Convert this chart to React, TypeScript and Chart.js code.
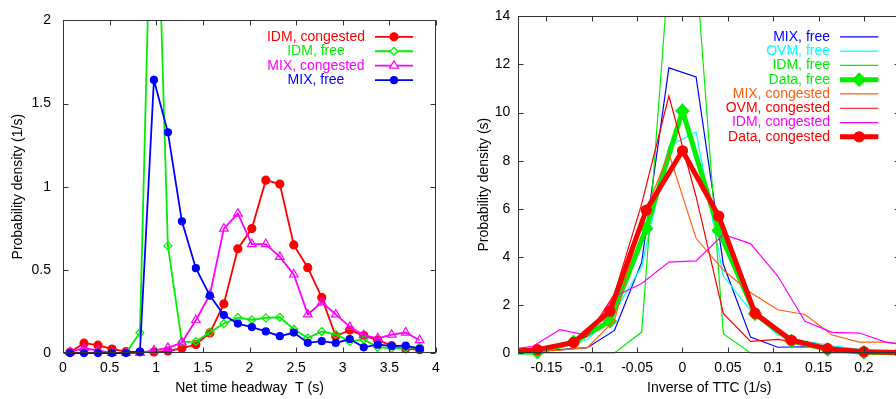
import React, { useEffect, useRef } from 'react';
import { Chart, registerables } from 'chart.js';

Chart.register(...registerables);

// ---------- Left panel: net time headway ----------
const HEADWAY_T = [0.075, 0.225, 0.375, 0.525, 0.675, 0.825, 0.975, 1.125, 1.275, 1.425, 1.575, 1.725, 1.875,
  2.025, 2.175, 2.325, 2.475, 2.625, 2.775, 2.925, 3.075, 3.225, 3.375, 3.525, 3.675, 3.825];
const IDM_CONGESTED = [0.005, 0.059, 0.047, 0.024, 0.008, 0.006, 0.006, 0.012, 0.028, 0.051, 0.121, 0.295, 0.627,
  0.748, 1.039, 1.016, 0.650, 0.513, 0.333, 0.101, 0.138, 0.105, 0.078, 0.044, 0.025, 0.020];
const IDM_FREE = [0, 0, 0, 0, 0, 0.122, 3.5, 0.644, 0.066, 0.069, 0.125, 0.177, 0.213, 0.200, 0.211, 0.215,
  0.143, 0.090, 0.129, 0.112, 0.070, 0.082, 0.035, 0.028, 0.030, 0.035];
const MIX_CONGESTED = [0.005, 0.03, 0.015, 0, 0, 0, 0.016, 0.031, 0.063, 0.197, 0.350, 0.748, 0.838, 0.655,
  0.655, 0.578, 0.472, 0.232, 0.305, 0.232, 0.157, 0.107, 0.088, 0.110, 0.123, 0.077];
const MIX_FREE = [0, 0, 0, 0, 0, 0.008, 1.642, 1.327, 0.792, 0.510, 0.345, 0.228, 0.177, 0.156, 0.130, 0.101,
  0.123, 0.061, 0.071, 0.060, 0.084, 0.034, 0.050, 0.042, 0.044, 0.026];
const LEFT_X_TICKS = [0, 0.5, 1, 1.5, 2, 2.5, 3, 3.5, 4];
const LEFT_Y_TICKS = [0, 0.5, 1, 1.5, 2];

// ---------- Right panel: inverse of TTC ----------
const TTC_DATA_X = [-0.2, -0.16, -0.12, -0.08, -0.04, 0, 0.04, 0.08, 0.12, 0.16, 0.2, 0.24];
const DATA_FREE = [0.02, 0.04, 0.45, 1.32, 5.18, 10.07, 5.1, 1.63, 0.5, 0.15, 0.03, 0.01];
const DATA_CONGESTED = [0.05, 0.14, 0.44, 1.74, 5.94, 8.41, 5.69, 1.65, 0.53, 0.18, 0.05, 0.02];
const TTC_SIM_X = [-0.195, -0.165, -0.135, -0.105, -0.075, -0.045, -0.015, 0.015, 0.045, 0.075, 0.105, 0.135,
  0.165, 0.195, 0.225, 0.255];
const MIX_FREE_R = [0.04, 0.08, 0.14, 0.22, 0.94, 3.78, 11.86, 11.48, 3.69, 0.66, 0.24, 0.26, 0.2, 0.12, 0.08, 0.05];
const OVM_FREE_R = [0.05, 0.12, 0.3, 0.55, 1.7, 3.6, 8.6, 9.2, 3.2, 1.77, 0.75, 0.5, 0.3, 0.15, 0.08, 0.05];
const IDM_FREE_R = [0, 0, 0, 0, 0, 0.87, 16, 16, 0.8, 0, 0, 0, 0, 0, 0, 0];
const MIX_CONGESTED_R = [0.03, 0.05, 0.12, 0.22, 1.35, 5.5, 8.31, 4.77, 3.45, 2.52, 1.8, 1.6, 0.75, 0.45, 0.45, 0.3];
const OVM_CONGESTED_R = [0.05, 0.1, 0.3, 0.7, 2.45, 6.2, 10.69, 6.5, 1.65, 0.48, 0.57, 0.4, 0.2, 0.1, 0.05, 0.03];
const IDM_CONGESTED_R = [0.12, 0.28, 0.97, 0.73, 2.34, 2.89, 3.78, 3.83, 4.93, 4.55, 3.2, 1.32, 0.86, 0.83, 0.44, 0.3];
const RIGHT_X_TICKS = [-0.15, -0.1, -0.05, 0, 0.05, 0.1, 0.15, 0.2];
const RIGHT_Y_TICKS = [0, 2, 4, 6, 8, 10, 12, 14];

const FONT_FAMILY = '"Liberation Sans", Arial, sans-serif';

type PStyle = 'circle' | 'rectRot' | 'triangle' | undefined;
interface LegendItem {
  label: string;
  color: string;
  lineWidth: number;
  point?: PStyle;
  radius?: number;
  filled?: boolean;
}

function pts(xs: number[], ys: number[]) {
  return xs.map((x, i) => ({ x, y: ys[i] }));
}

function fmt(v: number) {
  return String(Number(v.toFixed(3)));
}

function drawMarker(ctx: CanvasRenderingContext2D, style: PStyle, x: number, y: number, r: number, color: string, filled: boolean) {
  ctx.beginPath();
  if (style === 'circle') {
    ctx.arc(x, y, r, 0, Math.PI * 2);
  } else if (style === 'rectRot') {
    ctx.moveTo(x - r, y);
    ctx.lineTo(x, y - r);
    ctx.lineTo(x + r, y);
    ctx.lineTo(x, y + r);
    ctx.closePath();
  } else if (style === 'triangle') {
    for (let k = 0; k < 3; k++) {
      const a = (k * 2 * Math.PI) / 3;
      const px = x + Math.sin(a) * r;
      const py = y - Math.cos(a) * r;
      if (k === 0) ctx.moveTo(px, py); else ctx.lineTo(px, py);
    }
    ctx.closePath();
  }
  ctx.lineWidth = 1.2;
  ctx.strokeStyle = color;
  ctx.fillStyle = filled ? color : '#ffffff';
  ctx.fill();
  ctx.stroke();
}

function framePlugin(tickLen: number) {
  return {
    id: 'gpFrame',
    afterDatasetsDraw(chart: any) {
      const { ctx, chartArea: a, scales } = chart;
      ctx.save();
      ctx.strokeStyle = '#333333';
      ctx.lineWidth = 1;
      const L = Math.round(a.left) + 0.5;
      const R = Math.round(a.right) - 0.5;
      const T = Math.round(a.top) + 0.5;
      const B = Math.round(a.bottom) - 0.5;
      ctx.strokeRect(L, T, R - L, B - T);
      ctx.beginPath();
      scales.x.ticks.forEach((t: any) => {
        const px = Math.round(scales.x.getPixelForValue(t.value)) + 0.5;
        ctx.moveTo(px, B); ctx.lineTo(px, B - tickLen);
        ctx.moveTo(px, T); ctx.lineTo(px, T + tickLen);
      });
      scales.y.ticks.forEach((t: any) => {
        const py = Math.round(scales.y.getPixelForValue(t.value)) + 0.5;
        ctx.moveTo(L, py); ctx.lineTo(L + tickLen, py);
        ctx.moveTo(R, py); ctx.lineTo(R - tickLen, py);
      });
      ctx.stroke();
      ctx.restore();
    },
  };
}

function legendPlugin(items: LegendItem[], cfg: { textX: number; align: CanvasTextAlign; x0: number; x1: number; y0: number; dy: number }) {
  return {
    id: 'gpLegend',
    afterDraw(chart: any) {
      const ctx: CanvasRenderingContext2D = chart.ctx;
      ctx.save();
      ctx.font = `14px ${FONT_FAMILY}`;
      ctx.textBaseline = 'middle';
      ctx.textAlign = cfg.align;
      items.forEach((it, i) => {
        const y = cfg.y0 + i * cfg.dy;
        ctx.fillStyle = it.color;
        ctx.fillText(it.label, cfg.textX, y);
        ctx.strokeStyle = it.color;
        ctx.lineWidth = it.lineWidth;
        ctx.beginPath();
        ctx.moveTo(cfg.x0, y);
        ctx.lineTo(cfg.x1, y);
        ctx.stroke();
        if (it.point) {
          drawMarker(ctx, it.point, (cfg.x0 + cfg.x1) / 2, y, it.radius || 4, it.color, !!it.filled);
        }
      });
      ctx.restore();
    },
  };
}

function lineDs(label: string, xs: number[], ys: number[], color: string, width: number, order: number,
  point: PStyle, radius: number, filled: boolean) {
  return {
    label,
    data: pts(xs, ys),
    borderColor: color,
    backgroundColor: color,
    borderWidth: width,
    tension: 0,
    order,
    pointStyle: point || 'circle',
    pointRadius: point ? radius : 0,
    pointBorderWidth: 1.2,
    pointBorderColor: color,
    pointBackgroundColor: filled ? color : 'rgba(255,255,255,0)',
    clip: { left: 0, top: 0, right: 0, bottom: 10 },
  };
}

function axisCfg(min: number, max: number, tickVals: number[], title: string, isX: boolean, size: number, tickPad: number, titlePad: any) {
  return {
    type: 'linear',
    min,
    max,
    grid: { display: false, drawTicks: false },
    border: { display: false },
    afterBuildTicks: (scale: any) => {
      scale.ticks = tickVals.map((value) => ({ value }));
    },
    afterFit: (scale: any) => {
      if (isX) scale.height = size; else scale.width = size;
    },
    ticks: {
      autoSkip: false,
      maxRotation: 0,
      padding: tickPad,
      color: '#000000',
      font: { family: FONT_FAMILY, size: 14 },
      callback: (v: any) => fmt(Number(v)),
    },
    title: {
      display: true,
      text: title,
      color: '#000000',
      font: { family: FONT_FAMILY, size: 14 },
      padding: titlePad,
    },
  };
}

function ChartCanvas({ config, left, width }: { config: () => any; left: number; width: number }) {
  const ref = useRef<HTMLCanvasElement | null>(null);
  useEffect(() => {
    if (!ref.current) return;
    const chart = new Chart(ref.current, config());
    return () => chart.destroy();
  }, []);
  return (
    <canvas
      ref={ref}
      width={width}
      height={399}
      style={{ position: 'absolute', left, top: 0, width, height: 399 }}
    />
  );
}

function leftConfig() {
  const RED = '#ff0000', GREEN = '#00ee00', MAG = '#ff00ff', BLUE = '#0000ff';
  const items: LegendItem[] = [
    { label: 'IDM, congested', color: RED, lineWidth: 1.8, point: 'circle', radius: 4, filled: true },
    { label: 'IDM, free', color: GREEN, lineWidth: 1.8, point: 'rectRot', radius: 4, filled: false },
    { label: 'MIX, congested', color: MAG, lineWidth: 1.8, point: 'triangle', radius: 5, filled: false },
    { label: 'MIX, free', color: BLUE, lineWidth: 1.8, point: 'circle', radius: 3.5, filled: true },
  ];
  return {
    type: 'line',
    data: {
      datasets: [
        lineDs('IDM, congested', HEADWAY_T, IDM_CONGESTED, RED, 1.8, 3, 'circle', 4, true),
        lineDs('IDM, free', HEADWAY_T, IDM_FREE, GREEN, 1.8, 2, 'rectRot', 4, false),
        lineDs('MIX, congested', HEADWAY_T, MIX_CONGESTED, MAG, 1.8, 1, 'triangle', 5, false),
        lineDs('MIX, free', HEADWAY_T, MIX_FREE, BLUE, 1.8, 0, 'circle', 3.5, true),
      ],
    },
    options: {
      responsive: false,
      animation: false,
      events: [],
      layout: { padding: { left: 0, top: 14, right: 14, bottom: 0 } },
      plugins: { legend: { display: false }, tooltip: { enabled: false }, title: { display: false } },
      scales: {
        x: axisCfg(0, 4, LEFT_X_TICKS, 'Net time headway  T (s)', true, 46, 7, { top: 0, bottom: 2 }),
        y: axisCfg(0, 2, LEFT_Y_TICKS, 'Probability density (1/s)', false, 63, 12, { top: 10, bottom: 0 }),
      },
    },
    plugins: [framePlugin(5), legendPlugin(items, { textX: 316, align: 'center', x0: 375, x1: 413, y0: 36.8, dy: 14.45 })],
  };
}

function rightConfig() {
  const BLUE = '#0000ff', CYAN = '#00ffff', GREEN = '#00ee00', ORANGE = '#ff6010', RED = '#ff0000', MAG = '#ff00ff';
  const items: LegendItem[] = [
    { label: 'MIX, free', color: BLUE, lineWidth: 1.2 },
    { label: 'OVM, free', color: CYAN, lineWidth: 1.2 },
    { label: 'IDM, free', color: GREEN, lineWidth: 1.2 },
    { label: 'Data, free', color: GREEN, lineWidth: 5, point: 'rectRot', radius: 6.5, filled: true },
    { label: 'MIX, congested', color: ORANGE, lineWidth: 1.2 },
    { label: 'OVM, congested', color: RED, lineWidth: 1.2 },
    { label: 'IDM, congested', color: MAG, lineWidth: 1.2 },
    { label: 'Data, congested', color: RED, lineWidth: 5, point: 'circle', radius: 5, filled: true },
  ];
  return {
    type: 'line',
    data: {
      datasets: [
        lineDs('MIX, free', TTC_SIM_X, MIX_FREE_R, BLUE, 1.2, 7, undefined, 0, false),
        lineDs('OVM, free', TTC_SIM_X, OVM_FREE_R, CYAN, 1.2, 6, undefined, 0, false),
        lineDs('IDM, free', TTC_SIM_X, IDM_FREE_R, GREEN, 1.2, 5, undefined, 0, false),
        lineDs('Data, free', TTC_DATA_X, DATA_FREE, GREEN, 5, 4, 'rectRot', 6.5, true),
        lineDs('MIX, congested', TTC_SIM_X, MIX_CONGESTED_R, ORANGE, 1.2, 3, undefined, 0, false),
        lineDs('OVM, congested', TTC_SIM_X, OVM_CONGESTED_R, RED, 1.2, 2, undefined, 0, false),
        lineDs('IDM, congested', TTC_SIM_X, IDM_CONGESTED_R, MAG, 1.2, 1, undefined, 0, false),
        lineDs('Data, congested', TTC_DATA_X, DATA_CONGESTED, RED, 5, 0, 'circle', 5, true),
      ],
    },
    options: {
      responsive: false,
      animation: false,
      events: [],
      layout: { padding: { left: 0, top: 14, right: 9.8, bottom: 0 } },
      plugins: { legend: { display: false }, tooltip: { enabled: false }, title: { display: false } },
      scales: {
        x: axisCfg(-0.181, 0.24, RIGHT_X_TICKS, 'Inverse of TTC (1/s)', true, 46, 7, { top: 0, bottom: 2 }),
        y: axisCfg(0, 14, RIGHT_Y_TICKS, 'Probability density (s)', false, 68.3, 8, { top: 25.5, bottom: 0 }),
      },
    },
    plugins: [framePlugin(5), legendPlugin(items, { textX: 380, align: 'right', x0: 390, x1: 428.3, y0: 36.8, dy: 14.29 })],
  };
}

export default function App() {
  return (
    <div
      style={{
        position: 'fixed',
        left: 0,
        top: 0,
        width: 896,
        height: 399,
        overflow: 'hidden',
        background: '#ffffff',
      }}
    >
      <ChartCanvas config={leftConfig} left={0} width={450} />
      <ChartCanvas config={rightConfig} left={450} width={460} />
    </div>
  );
}
